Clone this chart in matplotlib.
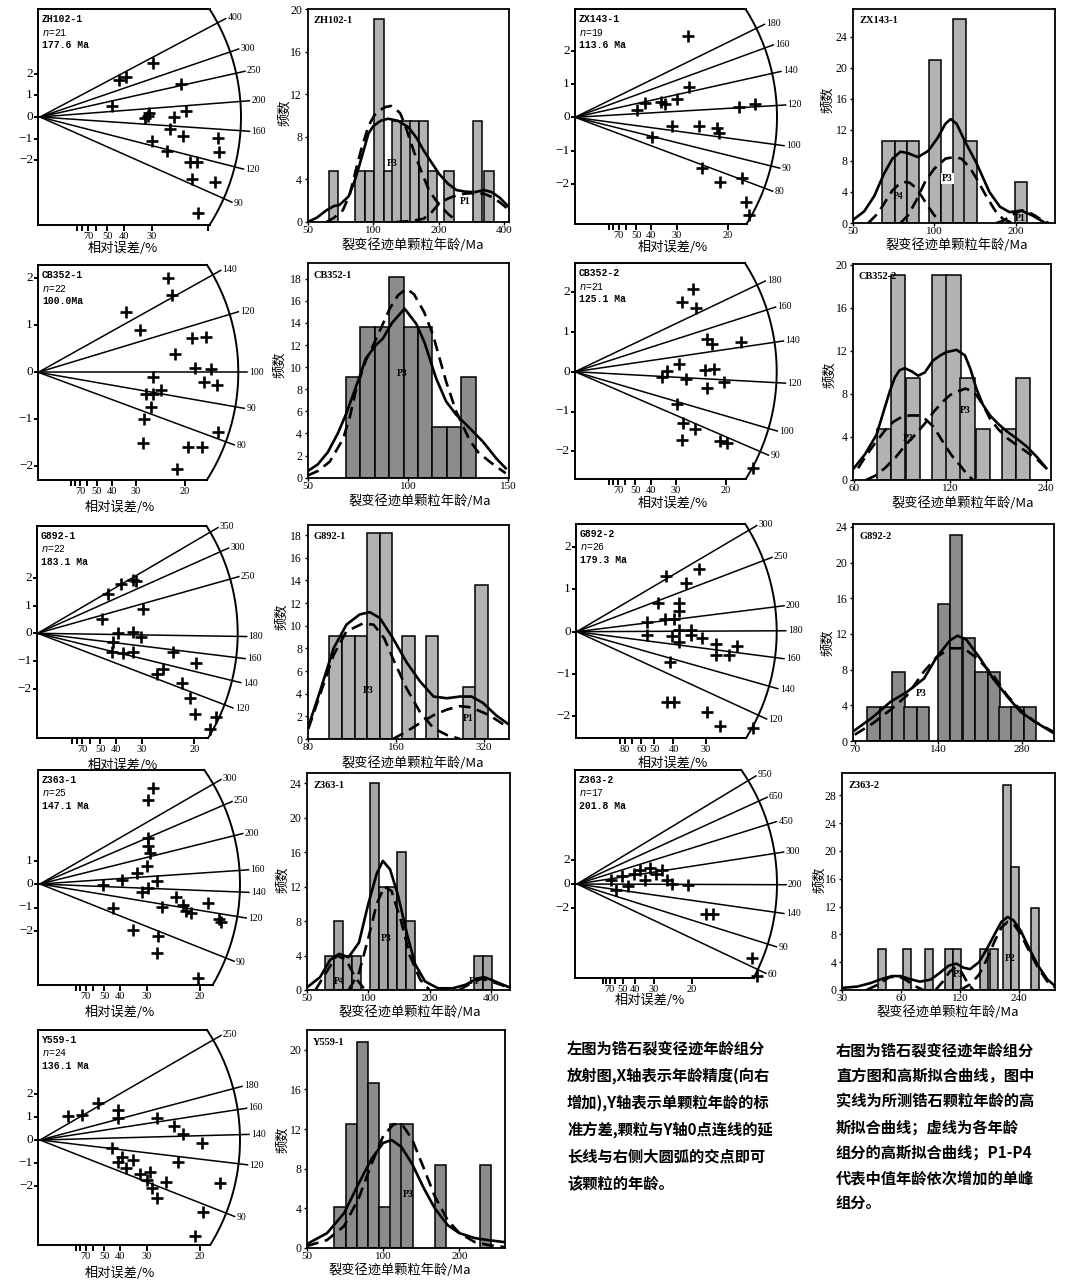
import numpy as np
import matplotlib
matplotlib.use('Agg')
import matplotlib.pyplot as plt
from matplotlib.ticker import NullLocator

plt.rcParams['font.family'] = ['Liberation Serif', 'Noto Sans CJK SC']
CJK = ['Noto Sans CJK SC', 'DejaVu Sans']
MONO = ['Liberation Mono', 'DejaVu Sans Mono']

W, H = 1065, 1281

# ---------------- radial plot data (precision = 100/relative error, z = standardised estimate)
zh102_prec = [3.37, 2.36, 2.56, 4.19, 2.13, 3.25, 3.13, 3.20, 4.34, 3.99, 3.87, 4.25, 3.33, 3.77, 5.31, 5.33, 4.46, 4.68, 4.51, 5.21, 4.71]
zh102_z = [2.47, 1.70, 1.83, 1.52, 0.51, 0.17, -0.06, 0.05, 0.28, -0.02, -0.55, -0.88, -1.09, -1.55, -0.98, -1.63, -2.09, -2.09, -2.86, -2.98, -4.44]
zh102_ages = [400, 300, 250, 200, 160, 120, 90]

zx143_prec = [3.72, 3.75, 2.04, 2.30, 2.81, 2.95, 3.33, 5.39, 5.90, 3.17, 4.08, 4.64, 4.73, 2.54, 4.15, 4.75, 5.46, 5.61, 5.72]
zx143_z = [2.44, 0.90, 0.22, 0.42, 0.47, 0.40, 0.54, 0.30, 0.40, -0.26, -0.26, -0.33, -0.48, -0.60, -1.53, -1.93, -1.83, -2.53, -2.93]
zx143_ages = [180, 160, 140, 120, 100, 90, 80]

cb3521_prec = [4.43, 4.58, 2.99, 3.47, 5.25, 5.74, 4.66, 5.34, 5.88, 3.92, 5.65, 6.10, 4.18, 3.67, 3.90, 3.86, 3.61, 3.58, 6.14, 5.11, 5.59, 4.75]
cb3521_z = [2.00, 1.65, 1.28, 0.90, 0.74, 0.76, 0.38, 0.09, 0.07, -0.09, -0.20, -0.28, -0.38, -0.47, -0.47, -0.73, -1.00, -1.51, -1.28, -1.60, -1.60, -2.06]
cb3521_ages = [140, 120, 100, 90, 80]

cb3522_prec = [3.90, 3.53, 4.01, 4.36, 4.53, 5.50, 3.44, 3.04, 2.89, 3.66, 4.30, 4.60, 4.93, 4.38, 3.37, 3.57, 3.97, 3.55, 4.80, 5.04, 5.88]
cb3522_z = [2.09, 1.76, 1.61, 0.82, 0.69, 0.75, 0.19, 0.02, -0.13, -0.18, 0.04, 0.08, -0.25, -0.42, -0.81, -1.30, -1.44, -1.72, -1.74, -1.80, -2.41]
cb3522_ages = [180, 160, 140, 120, 100, 90]

g8921_prec = [3.03, 3.13, 2.65, 2.26, 3.37, 2.07, 2.57, 3.05, 2.41, 3.29, 2.38, 2.71, 3.03, 4.33, 5.07, 4.01, 3.80, 4.60, 4.88, 5.02, 5.71, 5.52]
g8921_z = [1.93, 1.89, 1.77, 1.41, 0.87, 0.51, 0.00, 0.04, -0.30, -0.12, -0.66, -0.72, -0.66, -0.66, -1.06, -1.29, -1.48, -1.81, -2.33, -2.93, -3.01, -3.46]
g8921_ages = [350, 300, 250, 180, 160, 140, 120]

g8922_prec = [2.31, 3.15, 2.83, 2.11, 2.65, 2.65, 2.52, 1.81, 2.28, 1.81, 2.46, 2.65, 2.65, 2.95, 2.95, 3.23, 3.59, 3.59, 3.94, 4.14, 2.41, 2.34, 2.52, 3.36, 3.69, 4.55]
g8922_z = [1.32, 1.48, 1.16, 0.67, 0.67, 0.49, 0.30, 0.24, 0.29, -0.08, -0.09, 0.04, -0.24, 0.04, -0.08, -0.14, -0.28, -0.55, -0.55, -0.33, -0.71, -1.67, -1.67, -1.91, -2.24, -2.27]
g8922_ages = [300, 250, 200, 180, 160, 140, 120]

z3631_prec = [3.53, 3.38, 3.38, 3.38, 3.44, 1.97, 2.56, 3.19, 3.38, 3.66, 2.28, 3.81, 4.47, 4.56, 4.72, 5.25, 5.59, 5.66, 2.91, 3.69, 3.66, 4.94, 3.03, 3.34, 4.25]
z3631_z = [4.09, 3.57, 1.96, 1.62, 1.32, -0.04, 0.17, -0.34, -0.17, 0.13, -1.02, -0.98, -0.89, -1.15, -1.23, -0.81, -1.49, -1.62, -1.96, -2.21, -2.94, -4.00, 0.47, 0.77, -0.55]
z3631_ages = [300, 250, 200, 160, 140, 120, 90]

z3632_prec = [1.48, 1.70, 1.96, 2.22, 2.48, 2.74, 2.96, 3.17, 3.43, 3.70, 3.91, 4.13, 4.83, 5.61, 5.91, 7.61, 7.83]
z3632_z = [0.33, -0.50, 0.67, -0.17, 0.83, 1.17, 0.33, 1.33, 0.83, 1.17, 0.33, 0.00, -0.08, -2.50, -2.50, -6.17, -7.67]
z3632_ages = [950, 650, 450, 300, 200, 140, 90, 60]

y5591_prec = [0.88, 1.31, 1.81, 2.44, 2.44, 2.25, 3.66, 4.19, 4.47, 5.06, 2.44, 2.56, 2.69, 3.13, 3.44, 3.34, 3.94, 4.31, 3.66, 5.63, 5.09, 4.84, 2.91, 3.50]
y5591_z = [1.04, 1.09, 1.61, 1.30, 0.96, -0.35, 0.96, 0.61, 0.26, -0.13, -0.96, -0.74, -1.22, -1.48, -1.39, -1.74, -1.83, -0.96, -2.52, -1.87, -3.13, -4.17, -0.87, -2.09]
y5591_ages = [250, 180, 160, 140, 120, 90]

# ---------------- histogram data (bin left edge in Ma, frequency %)
zh102_bins = [62.5, 82.8, 91.2, 101, 111.8, 122.5, 134.2, 147.5, 161.6, 177.7, 211.6, 285.7, 323]
zh102_freq = [4.76, 4.76, 4.76, 19.05, 4.76, 9.52, 9.52, 9.52, 9.52, 4.76, 4.76, 9.52, 4.76]
zh102_fit_age = [50, 55, 61, 66, 70, 77, 82, 86, 90, 95, 100, 108, 117, 130, 145, 158, 170, 185, 200, 220, 241, 265, 292, 323, 350, 380, 420]
zh102_fit = [0, 0.4, 1.1, 1.5, 1.6, 2.4, 3.8, 5.2, 6.6, 8.3, 9.0, 9.5, 9.7, 9.5, 8.9, 7.9, 6.75, 5.6, 4.55, 3.6, 3.0, 2.85, 2.8, 3.0, 2.8, 2.3, 1.4]
zh102_p3_age = [61, 66, 72.5, 78, 82.4, 88, 95, 101, 107, 114, 120.5, 127, 133, 140, 147.5, 155, 163, 172, 180, 193, 206, 222, 241]
zh102_p3 = [0, 0.4, 1.1, 2.6, 4.55, 6.8, 9, 10, 10.5, 10.8, 10.9, 10.6, 10.2, 9.1, 7.7, 6.4, 5.2, 4.0, 3.0, 2.1, 1.4, 0.7, 0.15]
zh102_p1_age = [128, 150, 170, 185, 200, 220, 241, 260, 280, 300, 323, 350, 378, 400, 420]
zh102_p1 = [0, 0.1, 0.3, 0.9, 1.7, 2.2, 2.5, 2.65, 2.7, 2.7, 2.65, 2.35, 1.9, 1.5, 1.1]

zx143_bins = [64.3, 71.5, 79.1, 95.3, 106.3, 117.6, 129.3, 198.3]
zx143_freq = [10.53, 10.53, 10.53, 21.05, 5.26, 26.32, 10.53, 5.26]
zx143_fit_age = [50, 55, 60, 65, 70, 75, 80, 87, 95, 103, 110, 115, 121, 130, 143, 160, 175, 190, 210, 230, 255]
zx143_fit = [0.4, 1.5, 3.5, 6.3, 8.3, 9.2, 9.0, 8.5, 9.3, 11, 12.8, 13.4, 12.8, 10.5, 7.8, 4, 2.1, 1.4, 1.6, 1, 0.1]
zx143_p4_age = [57, 62, 66, 70, 74, 77, 81, 85, 90, 95, 100, 106]
zx143_p4 = [0, 1.3, 2.8, 4.2, 5.0, 5.3, 5.2, 4.6, 3.4, 2.1, 1.0, 0]
zx143_p3_age = [75, 80, 86, 93, 100, 110, 118, 126, 135, 143, 155, 168, 180, 195]
zx143_p3 = [0, 1, 3, 5.5, 7, 8.3, 8.5, 8.3, 7.2, 5.8, 3.6, 1.6, 0.5, 0]
zx143_p1_age = [170, 180, 190, 200, 210, 220, 235, 250, 265]
zx143_p1 = [0, 0.3, 0.8, 1.3, 1.6, 1.5, 1.0, 0.4, 0]

cb3521_bins = [69, 76.2, 83.4, 90.6, 97.8, 105, 112.2, 119.4, 126.6]
cb3521_freq = [9.09, 13.64, 13.64, 18.18, 13.64, 13.64, 4.55, 4.55, 9.09]
cb3521_fit_age = [50, 55, 60, 65, 69, 75, 79, 84, 87.5, 92, 98.3, 104.2, 108.3, 114, 119, 124, 130.7, 137.4, 144, 148.7]
cb3521_fit = [0.6, 1.2, 2.3, 4, 5.7, 8.7, 10.8, 12, 12.6, 14, 15.3, 13.9, 12.2, 9, 6.9, 5.7, 4.5, 3.25, 1.75, 0.85]
cb3521_p3_age = [50, 55, 61, 67.6, 71, 74.3, 79, 84.2, 90.9, 95, 99.2, 103, 108, 112.5, 119, 124, 130.7, 135, 140.7, 148.7]
cb3521_p3 = [0.2, 0.6, 1.45, 3.5, 5.5, 8.1, 10.6, 12.6, 15.3, 16.5, 17.1, 16.6, 15, 12.9, 8.7, 6.0, 3.4, 2.3, 1.45, 0.4]

cb3522_bins = [70.8, 78.3, 87.1, 105.6, 116.6, 129.3, 144.4, 174, 192.9]
cb3522_freq = [4.76, 19.05, 9.52, 19.05, 19.05, 9.52, 4.76, 4.76, 9.52]
cb3522_fit_age = [60, 65, 70.6, 74, 77.6, 80.5, 83.3, 86.5, 91, 95.3, 100, 106, 112, 117, 125.7, 133.5, 139, 145, 152, 160, 170, 181, 195, 208.7, 225, 240]
cb3522_fit = [1.1, 2.4, 4.2, 6.2, 8.2, 9.5, 10.2, 10.4, 10.1, 9.7, 10.0, 11.1, 11.6, 11.9, 12.1, 11.6, 10.3, 8.5, 7.0, 6.0, 5.2, 4.5, 3.8, 3.1, 2.1, 1.1]
cb3522_p3b_age = [61.8, 66, 70.6, 75, 79.6, 85, 89.8, 96.6, 101, 106, 111, 116.3, 122, 128.7, 135, 141.6]
cb3522_p3b = [1.1, 2.4, 3.6, 4.6, 5.4, 5.9, 6.0, 6.0, 5.6, 5.0, 4.1, 3.1, 2.2, 1.4, 0.6, 0]
cb3522_p3_age = [65.5, 70, 75, 81, 87.3, 94, 101, 107, 114, 120, 125.7, 134, 140, 145, 152, 160, 170, 181, 195, 208.7, 225, 240]
cb3522_p3 = [0, 0.4, 1.1, 2.1, 3.3, 4.3, 5.4, 6.4, 7.3, 7.9, 8.2, 8.5, 8.3, 7.9, 7.0, 5.7, 4.7, 3.9, 3.2, 2.6, 1.9, 1.1]

g8921_bins = [94.4, 104.3, 115.2, 127.3, 140.7, 168.2, 202.2, 271, 298.8]
g8921_freq = [9.09, 9.09, 9.09, 18.18, 18.18, 9.09, 9.09, 4.55, 13.64]
g8921_fit_age = [80, 87.7, 97.6, 108.1, 120, 130, 140.5, 156, 173.5, 193, 215, 239, 265, 290, 317, 352, 391]
g8921_fit = [1.1, 4.2, 8.0, 10.1, 11.0, 11.2, 10.7, 8.9, 6.8, 5.1, 3.75, 3.6, 3.75, 3.75, 3.2, 2.1, 1.25]
g8921_p3_age = [80, 87.7, 97.6, 108, 123, 134, 145.6, 156, 173.5, 193, 215, 239, 265]
g8921_p3 = [0.9, 3.9, 7.4, 9.5, 10.2, 10.1, 8.9, 7.1, 4.5, 2.4, 0.95, 0.35, 0]
g8921_p1_age = [156, 173.5, 193, 215, 239, 265, 289, 334, 391]
g8921_p1 = [0, 0.65, 1.4, 2.1, 2.6, 2.9, 2.8, 2.1, 0.95]

g8922_bins = [77.6, 86.2, 95.5, 105.5, 116.9, 139.2, 154.3, 171.4, 189.9, 210.4, 231.9, 256.2, 283.9]
g8922_freq = [3.85, 3.85, 7.69, 3.85, 3.85, 15.38, 23.08, 11.54, 7.69, 7.69, 3.85, 3.85, 3.85]
g8922_fit_age = [70, 81.5, 94.2, 107.9, 124.3, 138, 154.3, 164, 176.1, 198, 220.3, 247.6, 276, 310, 365]
g8922_fit = [1.2, 2.7, 4.4, 5.5, 7.0, 9.4, 11.3, 11.8, 11.4, 9.25, 7.0, 5.0, 3.3, 2.2, 0.86]
g8922_p3_age = [70, 81.5, 94.2, 107.9, 124.3, 138, 154.3, 172.6, 193.6, 220.3, 247.6, 276, 310, 365]
g8922_p3 = [0.7, 2.0, 3.5, 5.1, 7.8, 9.4, 10.4, 10.4, 9.25, 7.4, 5.1, 3.5, 2.2, 1.0]

z3631_bins = [61.4, 68, 75.3, 83.3, 102, 112.9, 125, 138.4, 153.2, 331, 366]
z3631_freq = [4, 8, 4, 4, 24, 12, 12, 16, 8, 4, 4]
z3631_fit_age = [50, 58, 65, 72, 80, 90, 100, 110, 118, 128, 140, 155, 170, 190, 220, 260, 300, 340, 370, 400, 450, 495]
z3631_fit = [0.3, 1.5, 3.5, 4.2, 3.8, 5.5, 10, 13.5, 15, 14, 11, 6.5, 3, 1, 0.2, 0.2, 0.6, 1.3, 1.5, 1.2, 0.7, 0.3]
z3631_p4_age = [55, 62, 70, 78, 86, 95]
z3631_p4 = [0, 2, 4, 3.5, 1.5, 0.2]
z3631_p3_age = [80, 90, 100, 110, 120, 130, 145, 160, 180, 200]
z3631_p3 = [0, 2, 6, 10, 12, 11.5, 8, 4, 1.2, 0]
z3631_p1_age = [280, 320, 360, 400, 450, 495]
z3631_p1 = [0, 0.8, 1.3, 1.0, 0.6, 0.2]

z3632_bins = [45.8, 61.4, 79.6, 100.6, 110.6, 151.7, 170.6, 198, 217.6, 276.8]
z3632_freq = [5.88, 5.88, 5.88, 5.88, 5.88, 5.88, 5.88, 29.41, 17.65, 11.76]
z3632_fit_age = [30, 36, 42, 48, 54, 60, 66, 75, 85, 95, 105, 115, 125, 135, 150, 165, 180, 195, 210, 225, 245, 270, 300, 335, 366]
z3632_fit = [0.3, 0.5, 1.0, 1.6, 2.0, 2.0, 1.6, 1.2, 1.5, 2.5, 3.5, 3.8, 3.2, 3.0, 4.0, 6.0, 8.0, 9.8, 10.5, 10.0, 8.5, 6.0, 3.5, 1.5, 0.6]
z3632_p4_age = [40, 46, 52, 58, 64, 70, 78]
z3632_p4 = [0, 0.8, 1.8, 2.0, 1.4, 0.6, 0]
z3632_p3_age = [90, 98, 106, 114, 122, 130, 140]
z3632_p3 = [0, 1.2, 2.6, 3.3, 2.6, 1.2, 0]
z3632_p2_age = [120, 135, 150, 165, 180, 195, 210, 225, 245, 270, 300, 335, 366]
z3632_p2 = [0, 0.8, 2.2, 4.5, 7, 9, 9.8, 9.5, 8, 5.6, 3.2, 1.2, 0.4]

y5591_bins = [64.2, 71, 78.6, 87.1, 96.4, 106.7, 118.1, 160.2, 240.5]
y5591_freq = [4.17, 12.5, 20.83, 16.67, 4.17, 12.5, 12.5, 8.33, 8.33]
y5591_fit_age = [50, 60, 70, 80, 90, 100, 108, 118, 130, 145, 160, 180, 200, 230, 260, 300]
y5591_fit = [0.4, 1.5, 3.5, 6.5, 9, 10.6, 10.9, 10.2, 8.5, 6, 4, 2.3, 1.5, 1, 0.8, 0.6]
y5591_p3_age = [50, 60, 70, 80, 90, 100, 110, 120, 130, 145, 160, 180, 200, 230, 260, 300]
y5591_p3 = [0.2, 0.8, 2.2, 5, 8.5, 11.3, 12.5, 12.3, 11, 8, 5.2, 2.8, 1.5, 0.6, 0.3, 0.1]

text_left = ['左图为锆石裂变径迹年龄组分', '放射图,X轴表示年龄精度(向右', '增加),Y轴表示单颗粒年龄的标',
             '准方差,颗粒与Y轴0点连线的延', '长线与右侧大圆弧的交点即可', '该颗粒的年龄。']
text_right = ['右图为锆石裂变径迹年龄组分', '直方图和高斯拟合曲线，图中', '实线为所测锆石颗粒年龄的高',
              '斯拟合曲线；虚线为各年龄', '组分的高斯拟合曲线；P1-P4', '代表中值年龄依次增加的单峰', '组分。']

fig = plt.figure(figsize=(W / 100, H / 100), dpi=100)


def box(l, t, r, b):
    return [l / W, 1 - b / H, (r - l) / W, (b - t) / H]


def ftext(x, y, s, **kw):
    fig.text(x / W, 1 - y / H, s, **kw)


def radial(prec, z, ages, central, info, geo, yticks, errs, err_labels, xlab):
    left, top, bottom, ox, oy, R, sx, sy, k = geo
    ax = fig.add_axes(box(left, top, ox + R + 2, bottom))
    ax.set_xlim(left - ox, R + 2)
    ax.set_ylim(oy - bottom, oy - top)
    ax.axis('off')
    x0, yt, yb = left - ox, oy - top, oy - bottom
    at = np.arcsin(min(yt / R, 1.0))
    ab = np.arcsin(max(yb / R, -1.0))
    th = np.linspace(ab, at, 200)
    kw = dict(color='k', lw=1.4, clip_on=False)
    ax.plot(R * np.cos(th), R * np.sin(th), **kw)
    ax.plot([x0, R * np.cos(at)], [yt, yt], **kw)
    ax.plot([x0, R * np.cos(ab)], [yb, yb], **kw)
    ax.plot([x0, x0], [yb, yt], **kw)
    for a in ages:
        ang = np.arctan(k * np.log(a / central))
        ax.plot([0, (R + 9) * np.cos(ang)], [0, (R + 9) * np.sin(ang)],
                color='k', lw=1.1, clip_on=False)
        ax.text((R + 11) * np.cos(ang), (R + 11) * np.sin(ang), str(a),
                fontsize=7, ha='left', va='center')
    ax.plot(sx * np.array(prec), sy * np.array(z), '+', color='k', ms=9, mew=1.9,
            clip_on=False)
    for v in yticks:
        ax.plot([x0 - 3, x0], [sy * v] * 2, **kw)
        ax.text(x0 - 5, sy * v, str(v).replace('-', '\u2212'), fontsize=9.5,
                ha='right', va='center')
    for e in errs:
        xx = sx * 100 / e
        ax.plot([xx, xx], [yb, yb - 5], **kw)
        if e in err_labels:
            ax.text(xx, yb - 7, str(e), fontsize=7.5, ha='center', va='top')
    name, n, age_txt = info
    ftext(left + 4, top + 10, name, fontsize=7, family=MONO, weight='bold', va='center')
    ftext(left + 4, top + 23, '$n$=' + str(n), fontsize=7, family=MONO, va='center')
    ftext(left + 4, top + 36, age_txt, fontsize=7, family=MONO, weight='bold', va='center')
    ftext(xlab[0], xlab[1], '相对误差/%', fontsize=9.5, family=CJK, ha='center', va='center')


def hist(name, bins, freq, ratio, color, fits, plabels, geo, xlim, ylim, xticks, yticks,
         ylab, xlab, log=True):
    l, t, r, b = geo
    ax = fig.add_axes(box(l, t, r, b))
    if log:
        ax.set_xscale('log')
        widths = [e * (ratio - 1) for e in bins]
    else:
        widths = [ratio] * len(bins)
    ax.bar(bins, freq, width=widths, align='edge', color=color, edgecolor='k', lw=1.1)
    for ages, vals, ls in fits:
        if ls == '-':
            ax.plot(ages, vals, color='k', lw=1.9)
        else:
            ax.plot(ages, vals, color='k', lw=1.9, dashes=(4.5, 2.5))
    for txt, xa, ya, bg in plabels:
        kw = dict(boxstyle='square,pad=0.1', fc='white', ec='none') if bg else None
        ax.text(xa, ya, txt, fontsize=7, weight='bold', ha='center', va='center', bbox=kw)
    ax.set_xlim(*xlim)
    ax.set_ylim(*ylim)
    ax.xaxis.set_minor_locator(NullLocator())
    ax.set_xticks(xticks)
    ax.set_xticklabels([str(v) for v in xticks])
    ax.set_yticks(yticks)
    ax.set_yticklabels([str(v) for v in yticks])
    ax.tick_params(axis='y', labelsize=8.5, length=2.5, width=1, pad=1.5, direction='out')
    ax.tick_params(axis='x', labelsize=8, length=2.5, width=1, pad=0.5, direction='out')
    for s in ax.spines.values():
        s.set_linewidth(1.3)
    ax.text(0.03, 0.965, name, transform=ax.transAxes, fontsize=7.5, weight='bold',
            ha='left', va='top')
    ftext(ylab[0], ylab[1], '频数', fontsize=9.5, family=CJK, rotation=90,
          ha='center', va='center')
    if xlab is not None:
        ftext(xlab[0], xlab[1], '裂变径迹单颗粒年龄/Ma', fontsize=9.5, family=CJK,
              ha='center', va='center')


E1 = [90, 80, 70, 60, 50, 40, 30, 20]
LAB = [70, 50, 40, 30, 20]

# ---------------- radial plots
radial(zh102_prec, zh102_z, zh102_ages, 177.6, ('ZH102-1', 21, '177.6 Ma'),
       (38, 9, 225, 40, 117, 201, 33.6, 21.7, 0.653), [-2, -1, 0, 1, 2], E1, [70, 50, 40, 30], (123, 248))
radial(zx143_prec, zx143_z, zx143_ages, 113.6, ('ZX143-1', 19, '113.6 Ma'),
       (575, 9, 224, 575, 117.3, 202, 30.5, 33.3, 1.066), [-2, -1, 0, 1, 2], E1, LAB, (673, 247))
radial(cb3521_prec, cb3521_z, cb3521_ages, 100.0, ('CB352-1', 22, '100.0Ma'),
       (38, 265, 480, 38.3, 372.3, 200, 29.3, 47, 1.66), [-2, -1, 0, 1, 2], E1, LAB, (120, 507))
radial(cb3522_prec, cb3522_z, cb3522_ages, 125.1, ('CB352-2', 21, '125.1 Ma'),
       (575, 263, 479, 575, 371.7, 201.7, 30.2, 39.8, 1.31), [-2, -1, 0, 1, 2], E1, LAB, (673, 503))
radial(g8921_prec, g8921_z, g8921_ages, 183.1, ('G892-1', 22, '183.1 Ma'),
       (37, 526, 738, 37.7, 633.3, 200, 31.3, 27.7, 0.905), [-2, -1, 0, 1, 2], E1, LAB, (123, 765))
radial(g8922_prec, g8922_z, g8922_ages, 179.3, ('G892-2', 26, '179.3 Ma'),
       (576, 524, 738, 576.7, 631.7, 200, 38.7, 42.3, 1.145), [-2, -1, 0, 1, 2],
       [90, 80, 70, 60, 50, 40, 30], [80, 60, 50, 40, 30], (673, 763))
radial(z3631_prec, z3631_z, z3631_ages, 147.1, ('Z363-1', 25, '147.1 Ma'),
       (38, 770, 985, 40, 884, 200, 32, 23.5, 0.81), [-2, -1, 0, 1], E1, LAB, (120, 1012))
radial(z3632_prec, z3632_z, z3632_ages, 201.8, ('Z363-2', 17, '201.8 Ma'),
       (575, 770, 978, 577, 884, 200, 23, 12, 0.39), [-2, 0, 2], E1, LAB, (650, 1000))
radial(y5591_prec, y5591_z, y5591_ages, 136.1, ('Y559-1', 24, '136.1 Ma'),
       (38, 1030, 1245, 40, 1140, 200, 32, 23, 0.95), [-2, -1, 0, 1, 2], E1, LAB, (120, 1273))

# ---------------- histograms
LIGHT, DARK = '#b2b2b2', '#8c8c8c'
hist('ZH102-1', zh102_bins, zh102_freq, 1.105, LIGHT,
     [(zh102_fit_age, zh102_fit, '-'), (zh102_p3_age, zh102_p3, '--'), (zh102_p1_age, zh102_p1, '--')],
     [('P3', 122, 5.5, False), ('P1', 265, 1.9, False)],
     (307.7, 9, 509, 222), (50, 420), (0, 20), [50, 100, 200, 400], [0, 4, 8, 12, 16, 20],
     (285, 113), (413, 245))
hist('ZX143-1', zx143_bins, zx143_freq, 1.11, LIGHT,
     [(zx143_fit_age, zx143_fit, '-'), (zx143_p4_age, zx143_p4, '--'), (zx143_p3_age, zx143_p3, '--'),
      (zx143_p1_age, zx143_p1, '--')],
     [('P4', 73.6, 3.4, False), ('P3', 111.8, 5.7, True), ('P1', 208, 0.6, False)],
     (853, 9, 1055, 223), (50, 280), (0, 27.6), [50, 100, 200], [0, 4, 8, 12, 16, 20, 24],
     (828, 100), (957, 245))
hist('CB352-1', cb3521_bins, cb3521_freq, 7.2, DARK,
     [(cb3521_fit_age, cb3521_fit, '-'), (cb3521_p3_age, cb3521_p3, '--')],
     [('P3', 97, 9.4, False)],
     (307.7, 263.3, 509.3, 477.7), (50, 150.5), (0, 19.4), [50, 100, 150], list(range(0, 19, 2)),
     (280, 365), (420, 501), log=False)
hist('CB352-2', cb3522_bins, cb3522_freq, 1.11, LIGHT,
     [(cb3522_fit_age, cb3522_fit, '-'), (cb3522_p3b_age, cb3522_p3b, '--'), (cb3522_p3_age, cb3522_p3, '--')],
     [("P3'", 89.8, 3.9, False), ('P3', 134, 6.5, False)],
     (853, 264.3, 1050.7, 480), (59.6, 247.8), (0, 20.06), [60, 120, 240], [0, 4, 8, 12, 16, 20],
     (830, 375), (963, 503))
hist('G892-1', g8921_bins, g8921_freq, 1.105, LIGHT,
     [(g8921_fit_age, g8921_fit, '-'), (g8921_p3_age, g8921_p3, '--'), (g8921_p1_age, g8921_p1, '--')],
     [('P3', 128, 4.3, False), ('P1', 282, 1.8, False)],
     (307.7, 525, 509.3, 739), (79.6, 391), (0, 18.9), [80, 160, 320], list(range(0, 19, 2)),
     (282, 617), (413, 763))
hist('G892-2', g8922_bins, g8922_freq, 1.108, DARK,
     [(g8922_fit_age, g8922_fit, '-'), (g8922_p3_age, g8922_p3, '--')],
     [('P3', 121.7, 5.3, False)],
     (853, 524.3, 1054, 741), (69, 365), (0, 24.3), [70, 140, 280], [0, 4, 8, 12, 16, 20, 24],
     (828, 643), None)
hist('Z363-1', z3631_bins, z3631_freq, 1.107, '#a6a6a6',
     [(z3631_fit_age, z3631_fit, '-'), (z3631_p4_age, z3631_p4, '--'), (z3631_p3_age, z3631_p3, '--'),
      (z3631_p1_age, z3631_p1, '--')],
     [('P3', 122, 6, False), ('P4', 72, 1.0, False), ('P1', 330, 1.0, False)],
     (307, 773, 510, 990), (50, 497), (0, 25.2), [50, 100, 200, 400], [0, 4, 8, 12, 16, 20, 24],
     (283, 880), (410, 1012))
hist('Z363-2', z3632_bins, z3632_freq, 1.099, LIGHT,
     [(z3632_fit_age, z3632_fit, '-'), (z3632_p4_age, z3632_p4, '--'), (z3632_p3_age, z3632_p3, '--'),
      (z3632_p2_age, z3632_p2, '--')],
     [('P3', 118, 2.2, False), ('P2', 216, 4.5, False)],
     (842, 773, 1055, 990), (30, 366), (0, 31.2), [30, 60, 120, 240], [0, 4, 8, 12, 16, 20, 24, 28],
     (820, 880), (948, 1012))
hist('Y559-1', y5591_bins, y5591_freq, 1.11, DARK,
     [(y5591_fit_age, y5591_fit, '-'), (y5591_p3_age, y5591_p3, '--')],
     [('P3', 126, 5.4, False)],
     (307, 1030, 505, 1248), (50, 303), (0, 22), [50, 100, 200], [0, 4, 8, 12, 16, 20],
     (283, 1140), (400, 1270))

# ---------------- notes
for i, line in enumerate(text_left):
    ftext(567, 1048 + i * 27.2, line, fontsize=11, family=CJK, weight='bold', va='center')
for i, line in enumerate(text_right):
    ftext(836, 1050 + i * 25.7, line, fontsize=11, family=CJK, weight='bold', va='center')

fig.savefig('out.png', dpi=100)
